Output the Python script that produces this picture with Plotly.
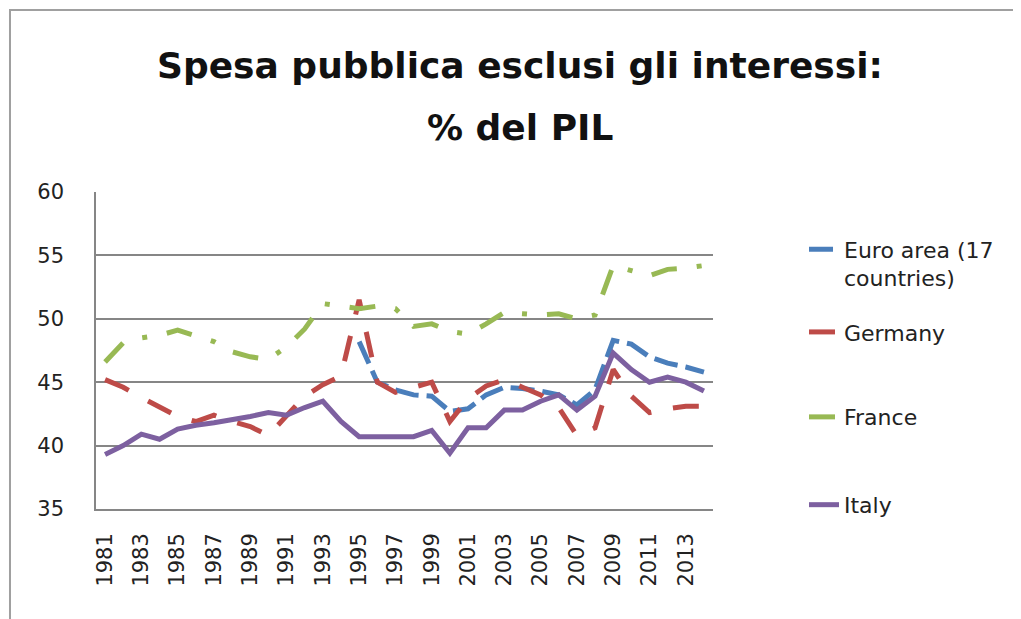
import plotly.graph_objects as go

# anni 1981-2014
years = list(range(1981, 2015))

euro_area = [None] * 14 + [
    48.2, 45.0, 44.4, 44.0, 43.9, 42.7, 42.9, 44.0, 44.6, 44.5,
    44.3, 44.0, 43.2, 44.4, 48.3, 48.0, 47.0, 46.5, 46.2, 45.8,
]
germany = [
    45.2, 44.6, 43.8, 43.1, 42.3, 41.9, 42.4, 41.9, 41.5, 40.8,
    42.4, 43.9, 44.8, 45.5, 51.5, 45.0, 44.2, 44.6, 45.0, 41.9,
    43.7, 44.7, 45.2, 44.6, 44.0, 43.0, 40.8, 41.4, 46.0, 43.9,
    42.6, 42.9, 43.1, 43.1,
]
france = [
    46.6, 48.1, 48.5, 48.7, 49.1, 48.7, 48.2, 47.4, 47.0, 46.8,
    47.8, 49.2, 51.2, 51.0, 50.8, 51.0, 50.8, 49.4, 49.6, 49.0,
    48.8, 49.6, 50.5, 50.4, 50.3, 50.4, 50.0, 50.3, 54.2, 53.8,
    53.4, 53.9, 54.0, 54.2,
]
italy = [
    39.3, 40.0, 40.9, 40.5, 41.3, 41.6, 41.8, 42.0, 42.3, 42.6,
    42.4, 43.0, 43.5, 41.9, 40.7, 40.7, 40.7, 40.7, 41.2, 39.4,
    41.4, 41.4, 42.8, 42.8, 43.5, 44.0, 42.8, 43.9, 47.3, 46.0,
    45.0, 45.4, 45.0, 44.3,
]

# nome, valori, colore, tratteggio, legenda, posizione y legenda
series = [
    ("Euro area (17<br>countries)", euro_area, "#4a7ebb", "24px,8px", "legend", 0.773),
    ("Germany", germany, "#be4b48", "26px,22px", "legend2", 0.558),
    ("France", france, "#98b954", "26px,20px,5px,20px", "legend3", 0.290),
    ("Italy", italy, "#7d60a0", "solid", "legend4", 0.013),
]

fig = go.Figure()
legends = {}
for name, vals, color, dash, leg, ly in series:
    fig.add_trace(go.Scatter(
        x=years, y=vals, name=name, mode="lines",
        line=dict(color=color, width=5, dash=dash),
        legend=leg,
    ))
    legends[leg] = dict(
        x=1.1475, y=ly, xanchor="left", yanchor="middle",
        valign="top", font=dict(size=22, color="#222"),
        bgcolor="rgba(0,0,0,0)",
    )

fig.update_layout(
    width=1013, height=611,
    margin=dict(l=88, r=308, t=184, b=110),
    paper_bgcolor="white", plot_bgcolor="white",
    font=dict(family="DejaVu Sans", size=21, color="#222"),
    showlegend=True,
    **legends,
    annotations=[
        dict(text="<b>Spesa pubblica esclusi gli interessi:</b>",
             x=0.687, y=1.40, xref="paper", yref="paper",
             xanchor="center", yanchor="middle",
             showarrow=False, font=dict(size=36, color="#111")),
        dict(text="<b>% del PIL</b>",
             x=0.687, y=1.205, xref="paper", yref="paper",
             xanchor="center", yanchor="middle",
             showarrow=False, font=dict(size=36, color="#111")),
    ],
    shapes=[
        dict(type="rect", xref="paper", yref="paper",
             x0=-0.1394, x1=1.7, y0=-0.5, y1=1.574,
             line=dict(color="#a0a0a0", width=2), layer="below"),
    ],
)

fig.update_xaxes(
    range=[1980.5, 2014.5], tick0=1981, dtick=2,
    tickangle=-90, tickfont=dict(size=21),
    showgrid=False, showline=True, linecolor="#868686", linewidth=1.5,
    ticks="", ticklabelstandoff=14, zeroline=False,
)
fig.update_yaxes(
    range=[35, 60], dtick=5, tickfont=dict(size=21),
    showgrid=True, gridcolor="#868686", gridwidth=1.5,
    showline=True, linecolor="#868686", linewidth=1.5,
    ticks="", ticklabelstandoff=26, zeroline=False,
)

fig.write_html("out.html")
